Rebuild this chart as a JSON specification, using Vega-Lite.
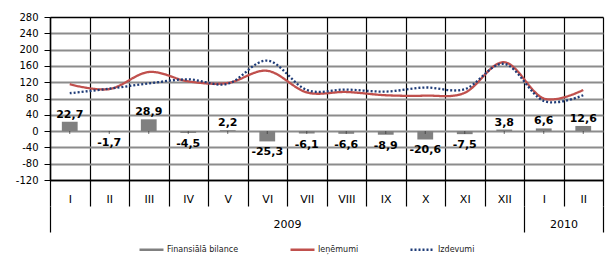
{
  "$schema": "https://vega.github.io/schema/vega-lite/v6.json",
  "width": 553,
  "height": 163,
  "autosize": "none",
  "padding": {"left": 50, "top": 17, "right": 3, "bottom": 75},
  "config": {
    "locale": {"number": {"decimal": ",", "thousands": " ", "grouping": [3], "currency": ["", ""], "minus": "-"}},
    "view": {"stroke": null},
    "font": "DejaVu Sans",
    "axis": {"labelFont": "DejaVu Sans", "labelColor": "#000"},
    "legend": {
      "orient": "none", "legendX": 88, "legendY": 219, "direction": "horizontal",
      "symbolType": "stroke", "symbolSize": 576, "symbolStrokeWidth": 2.5,
      "labelFontSize": 8, "labelFont": "DejaVu Sans", "labelColor": "#222",
      "columnPadding": 46, "labelOffset": 2
    }
  },
  "data": {"values": [
    {"key": "I-2009", "bilance": 22.7, "Ieņēmumi": 115, "Izdevumi": 93},
    {"key": "II-2009", "bilance": -1.7, "Ieņēmumi": 103, "Izdevumi": 104},
    {"key": "III-2009", "bilance": 28.9, "Ieņēmumi": 145, "Izdevumi": 117},
    {"key": "IV-2009", "bilance": -4.5, "Ieņēmumi": 122, "Izdevumi": 127},
    {"key": "V-2009", "bilance": 2.2, "Ieņēmumi": 118, "Izdevumi": 116},
    {"key": "VI-2009", "bilance": -25.3, "Ieņēmumi": 148, "Izdevumi": 173},
    {"key": "VII-2009", "bilance": -6.1, "Ieņēmumi": 95, "Izdevumi": 101},
    {"key": "VIII-2009", "bilance": -6.6, "Ieņēmumi": 96, "Izdevumi": 102},
    {"key": "IX-2009", "bilance": -8.9, "Ieņēmumi": 88, "Izdevumi": 97},
    {"key": "X-2009", "bilance": -20.6, "Ieņēmumi": 87, "Izdevumi": 107},
    {"key": "XI-2009", "bilance": -7.5, "Ieņēmumi": 94, "Izdevumi": 103},
    {"key": "XII-2009", "bilance": 3.8, "Ieņēmumi": 169, "Izdevumi": 165},
    {"key": "I-2010", "bilance": 6.6, "Ieņēmumi": 80, "Izdevumi": 74},
    {"key": "II-2010", "bilance": 12.6, "Ieņēmumi": 101, "Izdevumi": 88}
  ]},
  "layer": [
    {
      "mark": {"type": "bar", "color": "#808080", "width": {"band": 0.4}},
      "encoding": {
        "x": {
          "field": "key", "type": "nominal", "sort": null,
          "scale": {"type": "band", "paddingInner": 0, "paddingOuter": 0},
          "axis": {
            "title": null, "labelExpr": "datum.value ? split(datum.value,'-')[0] : ''", "labelAngle": 0,
            "tickBand": "extent", "tickSize": 26, "tickColor": "#000", "tickWidth": 1.2,
            "grid": true, "gridColor": "#000", "gridWidth": 1.2,
            "domain": true, "domainColor": "#000", "domainWidth": 1.5,
            "labelFontSize": 11, "labelPadding": -13, "labelBaseline": "top"
          }
        },
        "y": {
          "field": "bilance", "type": "quantitative",
          "scale": {"domain": [-120, 280], "nice": false, "zero": false},
          "axis": {
            "title": null,
            "values": [-120, -80, -40, 0, 40, 80, 120, 160, 200, 240, 280],
            "tickSize": 6, "tickColor": "#000", "domainColor": "#000", "domainWidth": 1.5,
            "labelFontSize": 10, "labelPadding": 6,
            "gridColor": {"condition": {"test": "datum.value==280||datum.value==-120", "value": "#000"}, "value": "#8c8c8c"},
            "gridWidth": {"condition": {"test": "datum.value==280||datum.value==-120", "value": 1.5}, "value": 1.8}
          }
        }
      }
    },
    {
      "transform": [{"filter": "datum.bilance >= 0"}],
      "mark": {"type": "text", "baseline": "bottom", "dy": -2, "fontWeight": "bold", "fontSize": 11, "color": "#000"},
      "encoding": {
        "x": {"field": "key", "type": "nominal", "sort": null, "axis": null},
        "y": {"field": "bilance", "type": "quantitative", "axis": null},
        "text": {"field": "bilance", "type": "quantitative", "format": ".1f"}
      }
    },
    {
      "transform": [{"filter": "datum.bilance < 0"}],
      "mark": {"type": "text", "baseline": "top", "dy": 5, "fontWeight": "bold", "fontSize": 11, "color": "#000"},
      "encoding": {
        "x": {"field": "key", "type": "nominal", "sort": null, "axis": null},
        "y": {"field": "bilance", "type": "quantitative", "axis": null},
        "text": {"field": "bilance", "type": "quantitative", "format": ".1f"}
      }
    },
    {
      "transform": [{"fold": ["Ieņēmumi", "Izdevumi"], "as": ["series", "val"]}],
      "mark": {"type": "line", "interpolate": "cardinal", "strokeCap": "butt"},
      "encoding": {
        "x": {"field": "key", "type": "nominal", "sort": null, "axis": null},
        "y": {"field": "val", "type": "quantitative", "axis": null},
        "color": {
          "field": "series", "type": "nominal",
          "scale": {"domain": ["Finansiālā bilance", "Ieņēmumi", "Izdevumi"], "range": ["#808080", "#c0504d", "#1f3c78"]},
          "legend": {"title": null}
        },
        "strokeDash": {
          "field": "series", "type": "nominal",
          "scale": {"domain": ["Finansiālā bilance", "Ieņēmumi", "Izdevumi"], "range": [[1, 0], [1, 0], [2, 2]]},
          "legend": {"title": null}
        },
        "strokeWidth": {"value": 2.3}
      }
    },
    {
      "mark": {"type": "tick", "orient": "vertical", "size": 3, "thickness": 1, "color": "#333", "yOffset": 1.5},
      "encoding": {
        "x": {
          "field": "key", "type": "nominal", "sort": null,
          "axis": {
            "title": null, "orient": "bottom", "offset": 26,
            "values": ["I-2009", "VII-2009", "XII-2009", "II-2010"],
            "tickBand": "extent", "tickSize": 26, "tickWidth": 1.2,
            "tickColor": {"condition": {"test": "datum.value==='I-2009'||datum.value==='VII-2009'", "value": "transparent"}, "value": "#000"},
            "grid": false, "domain": false,
            "labelExpr": "datum.value==='VII-2009'?'2009':(datum.value==='II-2010'?'2010':'')",
            "labelAngle": 0, "labelOffset": -19.75, "labelPadding": -14, "labelFontSize": 11, "labelBaseline": "top"
          }
        },
        "y": {"datum": 0, "axis": null}
      }
    }
  ],
  "resolve": {"axis": {"x": "independent", "y": "independent"}}
}
